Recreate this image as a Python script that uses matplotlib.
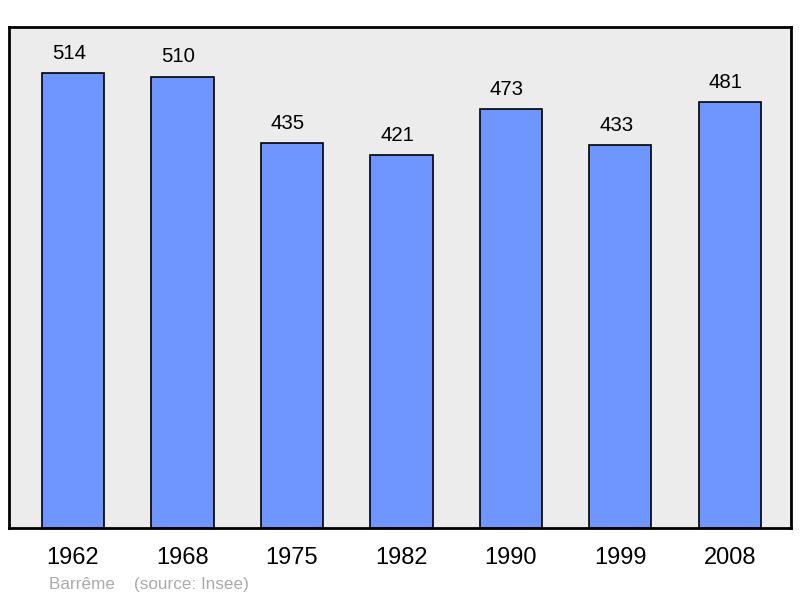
import matplotlib.pyplot as plt

plt.rcParams['font.family'] = ['Liberation Sans', 'DejaVu Sans']

years = ['1962', '1968', '1975', '1982', '1990', '1999', '2008']
population = [514, 510, 435, 421, 473, 433, 481]

fig = plt.figure(figsize=(8, 5.98), dpi=100)
ax = fig.add_axes([9 / 800, 1 - 528 / 598, 782 / 800, 501 / 598])
ax.set_facecolor('#ececec')

x = range(len(years))
ax.bar(x, population, width=0.57, color='#6f96ff', edgecolor='black', linewidth=1.2, zorder=2)
# value labels sit a little left of bar centre in the original
for xi, v in zip(x, population):
    ax.annotate(str(v), (xi, v), xytext=(-3, 10.2), textcoords='offset points',
                ha='center', va='baseline', fontsize=14.7)

ax.set_xlim(-0.585, 6.56)
ax.set_ylim(0, 566)
ax.set_yticks([])
ax.set_xticks(list(x))
ax.set_xticklabels(years, fontsize=17)
ax.tick_params(axis='x', length=0, pad=13.5)
for s in ax.spines.values():
    s.set_linewidth(2)

fig.text(49 / 800, 1 - 585 / 598, 'Barrême    (source: Insee)', fontsize=12.3,
         color='#aaaaaa', va='center', ha='left')

fig.savefig('out.png', dpi=100)
